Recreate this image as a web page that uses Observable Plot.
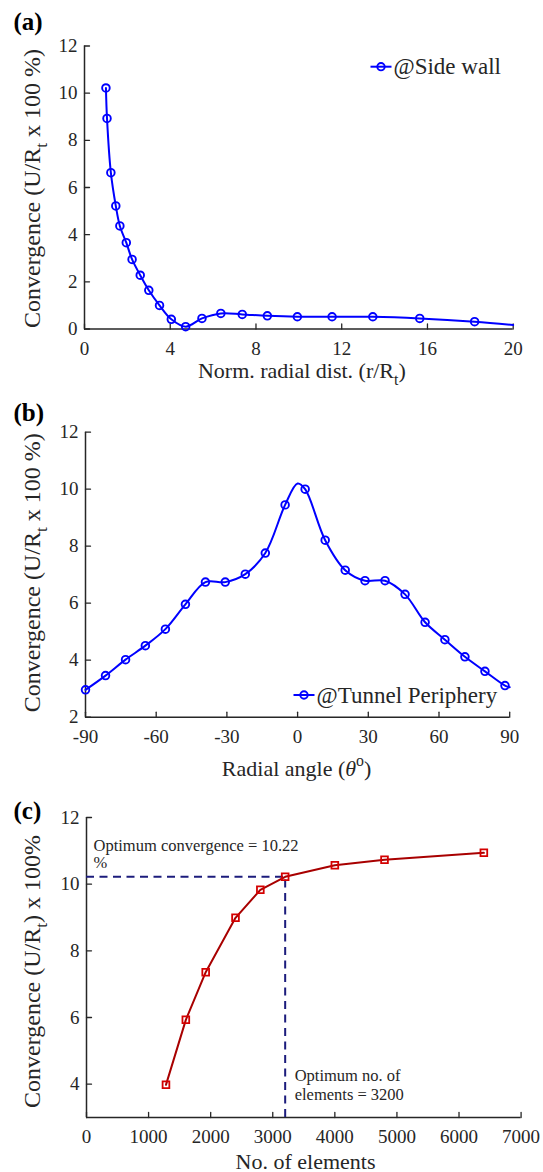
<!DOCTYPE html>
<html>
<head>
<meta charset="utf-8">
<script src="https://cdn.jsdelivr.net/npm/d3@7"></script>
<script src="https://cdn.jsdelivr.net/npm/@observablehq/plot@0.6"></script>
<style>
  html, body { margin: 0; padding: 0; background: #fff; }
  #wrap { position: relative; width: 543px; height: 1172px; overflow: hidden; }
  #wrap svg { position: absolute; left: 0; overflow: visible; }
</style>
</head>
<body>
<div id="wrap"></div>
<script>
// ---------------- data ----------------
// (a) convergence vs normalised radial distance (side wall)
const aDist = [1.0, 1.05, 1.23, 1.46, 1.65, 1.95, 2.22, 2.6, 3.0, 3.5, 4.05, 4.72, 5.48, 6.36, 7.36, 8.53, 9.93, 11.55, 13.45, 15.64, 18.2];
const aConv = [10.22, 8.93, 6.63, 5.22, 4.37, 3.66, 2.95, 2.28, 1.64, 1.0, 0.41, 0.1, 0.45, 0.66, 0.62, 0.56, 0.52, 0.52, 0.52, 0.45, 0.31];
const aTailDist = [20];
const aTailConv = [0.17];
const aXTicks = [0, 4, 8, 12, 16, 20];
const aYTicks = [0, 2, 4, 6, 8, 10, 12];
const aXLabel = "Norm. radial dist. (r/R_{t})";
const aYLabel = "Convergence (U/R_{t} x 100 %)";
const aLegend = "@Side wall";

// (b) convergence vs radial angle (tunnel periphery)
const bAngle = [-90, -81.5, -73.0, -64.6, -56.1, -47.6, -39.1, -30.7, -22.2, -13.7, -5.3, 3.2, 11.7, 20.2, 28.6, 37.1, 45.6, 54.1, 62.5, 71.0, 79.5, 88.0];
const bConv = [2.96, 3.46, 4.02, 4.51, 5.09, 5.96, 6.74, 6.74, 7.02, 7.76, 9.45, 10.0, 8.21, 7.16, 6.79, 6.79, 6.31, 5.33, 4.72, 4.12, 3.61, 3.11];
const bPeakAngle = [0];
const bPeakConv = [10.2];
const bTailAngle = [90];
const bTailConv = [3.05];
const bXTicks = [-90, -60, -30, 0, 30, 60, 90];
const bYTicks = [2, 4, 6, 8, 10, 12];
const bXLabel = "Radial angle (*θ*^{o})";
const bYLabel = "Convergence (U/R_{t} x 100 %)";
const bLegend = "@Tunnel Periphery";

// (c) mesh sensitivity
const cElements = [1280, 1600, 1920, 2400, 2800, 3200, 4000, 4800, 6400];
const cConv = [3.98, 5.93, 7.36, 8.99, 9.83, 10.22, 10.57, 10.73, 10.94];
const cOptElements = [3200];
const cOptConv = [10.22];
const cXTicks = [0, 1000, 2000, 3000, 4000, 5000, 6000, 7000];
const cYTicks = [4, 6, 8, 10, 12];
const cXLabel = "No. of elements";
const cYLabel = "Convergence (U/R_{t}) x 100%";
const cNote1 = "Optimum convergence = 10.22\n%";
const cNote2 = "Optimum no. of\nelements = 3200";

// ---------------- style ----------------
const FONT = '"Liberation Serif", "Times New Roman", Times, serif';
const AXIS = "#262626";
const BLUE = "#0000ff";
const DARKRED = "#a80000";
const RED = "#d40000";
const NAVY = "#1c1c7c";
const TICK_FS = 19, XLAB_FS = 22, YLAB_FS = 24;

const tickShape = { draw(ctx, l) { ctx.moveTo(0, 0); ctx.lineTo(0, -l); } };
const fmt = d => String(d);

function axesMarks(xTicks, yTicks, xMin, yMin) {
  return [
    Plot.axisX(xTicks, { tickSize: 0, tickPadding: 12, tickFormat: fmt, fontSize: TICK_FS, fill: AXIS, label: null }),
    Plot.axisY(yTicks, { tickSize: 0, tickPadding: 7, tickFormat: fmt, fontSize: TICK_FS, fill: AXIS, label: null }),
    Plot.vector(xTicks, { x: d => d, frameAnchor: "bottom", length: 5, shape: tickShape, anchor: "start", stroke: AXIS, strokeWidth: 1.3 }),
    Plot.vector(yTicks, { y: d => d, frameAnchor: "left", length: 5, rotate: 90, shape: tickShape, anchor: "start", stroke: AXIS, strokeWidth: 1.3 }),
    Plot.ruleX([xMin], { stroke: AXIS, strokeWidth: 1.5 }),
    Plot.ruleY([yMin], { stroke: AXIS, strokeWidth: 1.5 })
  ];
}

function labelMarks(xLabel, yLabel, xdx, xdy, ydx, ydy) {
  return [
    Plot.text([xLabel], { text: d => d, frameAnchor: "bottom", dx: xdx, dy: xdy, lineAnchor: "bottom", textAnchor: "middle", fontSize: XLAB_FS, fill: AXIS }),
    Plot.text([yLabel], { text: d => d, frameAnchor: "left", rotate: -90, dx: ydx, dy: ydy, lineAnchor: "bottom", textAnchor: "middle", fontSize: YLAB_FS, fill: AXIS })
  ];
}

// rich text: _{sub}, ^{sup}, *italic*
function richText(svg) {
  d3.select(svg).selectAll("text").each(function () {
    const t = this.textContent;
    if (!/(_\{|\^\{|\*)/.test(t)) return;
    const fs = parseFloat(getComputedStyle(this).fontSize) || 20;
    const parts = t.split(/(_\{[^}]*\}|\^\{[^}]*\}|\*[^*]*\*)/).filter(s => s.length);
    while (this.firstChild) this.removeChild(this.firstChild);
    let shift = 0;
    for (const p of parts) {
      const ts = document.createElementNS("http://www.w3.org/2000/svg", "tspan");
      let txt = p, target = 0;
      if (p.startsWith("_{")) { txt = p.slice(2, -1); target = 0.32 * fs; ts.setAttribute("font-size", (0.72 * fs) + "px"); }
      else if (p.startsWith("^{")) { txt = p.slice(2, -1); target = -0.42 * fs; ts.setAttribute("font-size", (0.72 * fs) + "px"); }
      else if (p.startsWith("*")) { txt = p.slice(1, -1); ts.setAttribute("font-style", "italic"); }
      const d = target - shift;
      if (d !== 0) ts.setAttribute("dy", d + "px");
      shift = target;
      ts.textContent = txt;
      this.appendChild(ts);
    }
  });
}

const wrap = document.getElementById("wrap");
function place(svg, top) {
  svg.style.top = top + "px";
  wrap.appendChild(svg);
  richText(svg);
}
const baseStyle = { fontFamily: FONT, fontSize: TICK_FS + "px", color: AXIS, background: "transparent", overflow: "visible" };

// ---------------- panel (a) ----------------
const aPts = aDist.map((x, i) => ({ x, y: aConv[i] }));
const aLine = aPts.concat(aTailDist.map((x, i) => ({ x, y: aTailConv[i] })));
const plotA = Plot.plot({
  width: 543, height: 385,
  marginLeft: 84, marginRight: 30.3, marginTop: 45.5, marginBottom: 56.5,
  style: baseStyle,
  x: { domain: [0, 20] },
  y: { domain: [0, 12] },
  marks: [
    ...axesMarks(aXTicks, aYTicks, 0, 0),
    Plot.line(aLine, { x: "x", y: "y", curve: "catmull-rom", stroke: BLUE, strokeWidth: 2 }),
    Plot.dot(aPts, { x: "x", y: "y", r: 3.8, stroke: BLUE, strokeWidth: 1.9, fill: "none" }),
    ...labelMarks(aXLabel, aYLabel, 3, 48.5, -45, 1)
  ]
});
place(plotA, 0);

// ---------------- panel (b) ----------------
const bPts = bAngle.map((x, i) => ({ x, y: bConv[i] }));
const bLine = bPts
  .concat(bPeakAngle.map((x, i) => ({ x, y: bPeakConv[i] })))
  .concat(bTailAngle.map((x, i) => ({ x, y: bTailConv[i] })))
  .sort((p, q) => p.x - q.x);
const plotB = Plot.plot({
  width: 543, height: 405,
  marginLeft: 85, marginRight: 33.8, marginTop: 46.7, marginBottom: 73.3,
  style: baseStyle,
  x: { domain: [-90, 90] },
  y: { domain: [2, 12] },
  marks: [
    ...axesMarks(bXTicks, bYTicks, -90, 2),
    Plot.line(bLine, { x: "x", y: "y", curve: "catmull-rom", stroke: BLUE, strokeWidth: 2 }),
    Plot.dot(bPts, { x: "x", y: "y", r: 3.8, stroke: BLUE, strokeWidth: 1.9, fill: "none" }),
    ...labelMarks(bXLabel, bYLabel, -1, 58.3, -46, -2)
  ]
});
place(plotB, 385);

// ---------------- panel (c) ----------------
const cPts = cElements.map((x, i) => ({ x, y: cConv[i] }));
const plotC = Plot.plot({
  width: 543, height: 382,
  marginLeft: 86, marginRight: 22.4, marginTop: 27, marginBottom: 55,
  style: baseStyle,
  x: { domain: [0, 7000] },
  y: { domain: [3, 12] },
  marks: [
    ...axesMarks(cXTicks, cYTicks, 0, 3),
    Plot.ruleY(cOptConv, { x1: 0, x2: cOptElements[0], stroke: NAVY, strokeWidth: 2, strokeDasharray: "8,5.5" }),
    Plot.ruleX(cOptElements, { y1: 3, y2: cOptConv[0], stroke: NAVY, strokeWidth: 2, strokeDasharray: "8,5.5" }),
    Plot.line(cPts, { x: "x", y: "y", stroke: DARKRED, strokeWidth: 2 }),
    Plot.dot(cPts, { x: "x", y: "y", symbol: "square", r: 3.8, stroke: RED, strokeWidth: 1.8, fill: "none" }),
    Plot.text([cNote1], { text: d => d, x: 0, y: cOptConv[0], dx: 7, dy: -8.5, textAnchor: "start", lineAnchor: "bottom", lineHeight: 1.05, fontSize: 16.5, fill: AXIS }),
    Plot.text([cNote2], { text: d => d, x: cOptElements[0], y: 3, dx: 9.5, dy: -18, textAnchor: "start", lineAnchor: "bottom", lineHeight: 1.15, fontSize: 16.5, fill: AXIS }),
    ...labelMarks(cXLabel, cYLabel, 1.7, 51, -47, 4)
  ]
});
place(plotC, 790);

// ---------------- overlay: panel letters & legends ----------------
const ov = d3.create("svg").attr("width", 543).attr("height", 1172)
  .style("top", "0px").style("pointer-events", "none")
  .attr("font-family", FONT).attr("fill", "#000");
[["(a)", 30], ["(b)", 420.6], ["(c)", 818.5]].forEach(([t, y]) => {
  ov.append("text").attr("x", 13.5).attr("y", y).attr("font-size", 25).attr("font-weight", "bold").text(t);
});
function legend(cx, cy, label) {
  const g = ov.append("g");
  g.append("line").attr("x1", cx - 10.5).attr("x2", cx + 10.5).attr("y1", cy).attr("y2", cy).attr("stroke", BLUE).attr("stroke-width", 2);
  g.append("circle").attr("cx", cx).attr("cy", cy).attr("r", 3.7).attr("fill", "none").attr("stroke", BLUE).attr("stroke-width", 1.9);
  g.append("text").attr("x", cx + 12.5).attr("y", cy + 7.5).attr("font-size", 23).attr("fill", AXIS).text(label);
}
legend(381, 66.7, aLegend);
legend(304, 695, bLegend);
wrap.appendChild(ov.node());
</script>
</body>
</html>
